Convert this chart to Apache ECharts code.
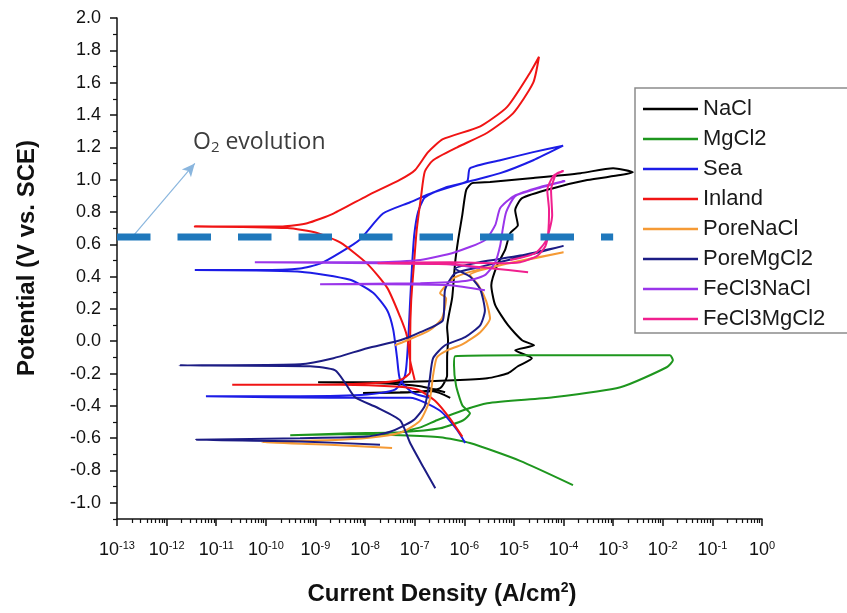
<!DOCTYPE html>
<html><head><meta charset="utf-8">
<script src="https://cdn.jsdelivr.net/npm/echarts@6/dist/echarts.min.js"></script>
<style>html,body{margin:0;padding:0;background:#fff}#c{width:847px;height:613px}</style>
</head><body><div id="c"></div>
<script>
// ---------- DATA (current density A/cm2, potential V vs SCE) ----------
const seriesNames = ['NaCl','MgCl2','Sea','Inland','PoreNaCl','PoreMgCl2','FeCl3NaCl','FeCl3MgCl2'];

const naclI = [5.2e-7,2.35e-7,5.1e-8,9.1e-9,8.1e-8,3.25e-7,4.5e-7,4.5e-7,4.7e-7,4.5e-7,5.7e-7,6.5e-7,7.5e-7,9.1e-7,1.09e-6,1.44e-6,3.3e-6,2.45e-5,2.2e-4,1.0e-3,2.5e-3,1.4e-3,3.0e-4,6.2e-5,1.46e-5,1.06e-5,1.2e-5,8.4e-6,6.6e-6,4.6e-6,3.5e-6,4.2e-6,7.6e-6,1.46e-5,2.55e-5,1.06e-5,2.3e-5,1.2e-5,7.6e-6,2.9e-6,6.1e-7,2.3e-8,1.13e-9,2.0e-8,1.3e-7,4.1e-7];
const naclV = [-0.35,-0.31,-0.316,-0.32,-0.316,-0.29,-0.21,-0.10,0.006,0.087,0.27,0.48,0.625,0.78,0.935,0.978,0.985,1.01,1.04,1.07,1.046,1.028,0.997,0.947,0.885,0.811,0.718,0.669,0.563,0.471,0.347,0.223,0.099,0.006,-0.025,-0.056,-0.105,-0.155,-0.198,-0.229,-0.241,-0.254,-0.254,-0.26,-0.279,-0.316];

const mgI = [1.55e-4,1.33e-5,1.3e-6,3.25e-7,5.1e-8,3.2e-9,3.1e-10,5.0e-9,5.1e-8,3.25e-7,9.5e-7,1.3e-6,9.1e-7,6.8e-7,6.2e-7,6.5e-7,1.33e-5,5.5e-4,1.4e-2,1.6e-2,1.2e-2,1.4e-3,6.2e-5,2.9e-6,9.5e-7,2.8e-7,1.3e-7,5.1e-8];
const mgV = [-0.89,-0.74,-0.63,-0.594,-0.582,-0.576,-0.582,-0.57,-0.563,-0.539,-0.489,-0.446,-0.396,-0.272,-0.149,-0.093,-0.087,-0.087,-0.087,-0.118,-0.161,-0.285,-0.347,-0.384,-0.427,-0.489,-0.533,-0.563];

const seaI = [1.04e-6,7.2e-7,3.25e-7,8.1e-8,1.97e-9,6.2e-12,4.9e-10,1.1e-8,4.0e-8,6.4e-8,7.4e-8,8.1e-8,8.9e-8,9.8e-8,1.17e-7,1.6e-7,4.1e-7,1.14e-6,1.3e-6,5.3e-6,2.45e-5,9.8e-5,2.45e-5,5.3e-6,1.14e-6,2.35e-7,8.1e-8,2.3e-8,7.9e-9,3.2e-9,1.24e-9,4.9e-10,7.6e-11,3.7e-12,4.9e-10,5.0e-9,1.45e-8,2.8e-8,3.7e-8,4.4e-8,5.1e-8,9.3e-8,2.0e-7];
const seaV = [-0.63,-0.55,-0.43,-0.35,-0.35,-0.34,-0.34,-0.33,-0.30,-0.21,0.01,0.25,0.48,0.66,0.80,0.89,0.95,0.99,1.07,1.12,1.17,1.21,1.12,1.04,0.985,0.92,0.86,0.79,0.63,0.55,0.48,0.45,0.44,0.44,0.43,0.38,0.30,0.19,0.07,-0.10,-0.24,-0.32,-0.35];

const inlandI = [9.1e-7,5.2e-7,2.6e-7,1.17e-7,4.0e-8,3.2e-9,2.1e-11,4.9e-10,1.26e-8,5.1e-8,8.1e-8,8.1e-8,8.5e-8,9.8e-8,1.1e-7,1.35e-7,1.6e-7,2.35e-7,7.2e-7,2.9e-6,9.6e-6,2.45e-5,3.2e-5,2.1e-5,7.3e-6,2.1e-6,3.7e-7,1.86e-7,1.02e-7,5.1e-8,1.1e-8,2.3e-9,6.8e-10,2.2e-10,3.7e-12,2.7e-10,1.08e-9,3.2e-9,1.1e-8,2.8e-8,5.1e-8,7.0e-8,8.1e-8,1.0e-7];
const inlandV = [-0.59,-0.48,-0.37,-0.30,-0.28,-0.27,-0.27,-0.27,-0.26,-0.24,-0.19,0.01,0.25,0.50,0.69,0.90,1.05,1.12,1.20,1.29,1.41,1.60,1.76,1.66,1.45,1.33,1.25,1.17,1.06,1.00,0.90,0.79,0.73,0.71,0.71,0.70,0.67,0.61,0.48,0.33,0.15,0.03,-0.12,-0.24];

const poreNaclI = [3.5e-8,1.95e-9,8.4e-11,3.2e-9,2.0e-8,5.8e-8,1.3e-7,2.0e-7,2.35e-7,2.8e-7,4.5e-7,9.1e-7,2.1e-6,3.3e-6,2.75e-6,1.9e-6,1.3e-6,5.3e-6,2.1e-5,1.0e-4,1.33e-5,2.1e-6,6.5e-7,4.5e-7,3.25e-7,4.3e-7,3.55e-7,2.0e-7,6.4e-8,4.0e-8];
const poreNaclV = [-0.66,-0.64,-0.625,-0.61,-0.59,-0.56,-0.49,-0.365,-0.21,-0.10,-0.056,-0.019,0.056,0.14,0.25,0.35,0.41,0.47,0.51,0.55,0.495,0.446,0.396,0.353,0.297,0.266,0.142,0.068,0.0,-0.025];

const poreMgI = [2.0e-8,4.9e-10,3.9e-12,4.9e-10,1.1e-8,3.2e-8,9.3e-8,1.6e-7,2.0e-7,2.35e-7,4.1e-7,1.04e-6,2.1e-6,2.6e-6,2.1e-6,1.3e-6,6.5e-7,2.1e-6,1.33e-5,1.0e-4,1.33e-5,2.1e-6,6.5e-7,4.1e-7,3.7e-7,1.3e-7,5.1e-8,1.1e-8,2.3e-9,4.9e-10,1.8e-12,7.8e-10,2.5e-9,4.0e-9,6.3e-9,1.75e-8,5.1e-8,8.1e-8,1.5e-7,2.6e-7];
const poreMgV = [-0.64,-0.62,-0.61,-0.60,-0.59,-0.56,-0.49,-0.40,-0.24,-0.105,-0.025,0.025,0.10,0.19,0.32,0.40,0.45,0.49,0.53,0.59,0.52,0.46,0.42,0.32,0.13,0.056,0.006,-0.043,-0.105,-0.142,-0.149,-0.155,-0.18,-0.26,-0.347,-0.41,-0.49,-0.63,-0.78,-0.91];

const fe3NaclI = [2.6e-6,5.2e-7,2.0e-8,1.24e-9,1.3e-7,1.04e-6,2.6e-6,4.2e-6,5.3e-6,6.0e-6,7.0e-6,1.06e-5,2.7e-5,1.08e-4,3.4e-5,1.0e-5,5.3e-6,4.2e-6,2.6e-6,6.5e-7,1.3e-7,2.0e-8,6.0e-11,2.0e-8,5.2e-7,2.1e-6];
const fe3NaclV = [0.316,0.347,0.353,0.353,0.359,0.372,0.409,0.489,0.594,0.70,0.80,0.898,0.941,0.991,0.954,0.898,0.824,0.718,0.625,0.551,0.502,0.489,0.489,0.483,0.477,0.452];

const fe3MgI = [1.93e-5,3.3e-6,5.2e-7,1.8e-8,5.2e-7,4.6e-6,1.33e-5,2.9e-5,4.3e-5,4.9e-5,5.1e-5,4.7e-5,6.2e-5,1.0e-4,7.1e-5,5.6e-5,5.9e-5,4.5e-5,2.7e-5,8.4e-6];
const fe3MgV = [0.427,0.452,0.477,0.483,0.489,0.483,0.489,0.526,0.588,0.669,0.811,0.935,1.022,1.053,1.034,0.935,0.78,0.625,0.545,0.502];

// O2 evolution threshold line and annotation arrow
const o2LineI = [1e-13, 1e-3];
const o2LineV = [0.645, 0.645];
const o2ArrowI = [2.1e-13, 3.7e-12];
const o2ArrowV = [0.65, 1.10];

// axis ticks
const xTickValues = [1e-13,1e-12,1e-11,1e-10,1e-9,1e-8,1e-7,1e-6,1e-5,1e-4,1e-3,1e-2,1e-1,1];
const yTickValues = [-1.0,-0.8,-0.6,-0.4,-0.2,0.0,0.2,0.4,0.6,0.8,1.0,1.2,1.4,1.6,1.8,2.0];
const yMinorValues = [-1.1,-0.9,-0.7,-0.5,-0.3,-0.1,0.1,0.3,0.5,0.7,0.9,1.1,1.3,1.5,1.7,1.9];
const xMinorValues = [];
for (let e = -13; e < 0; e++) for (let m = 2; m <= 9; m++) xMinorValues.push(m * Math.pow(10, e));

// ---------- CHART ----------
const colors = ['#000000','#1e961e','#1c1ce6','#f01414','#f59a35','#1c1c84','#9a35ea','#f0208e'];
const allI = [naclI, mgI, seaI, inlandI, poreNaclI, poreMgI, fe3NaclI, fe3MgI];
const allV = [naclV, mgV, seaV, inlandV, poreNaclV, poreMgV, fe3NaclV, fe3MgV];
const pairs = (I, V) => I.map((x, i) => [x, V[i]]);
const FONT = '"Liberation Sans", Arial, sans-serif';
const axisCol = '#111';

const chart = echarts.init(document.getElementById('c'), null, {renderer: 'canvas'});
const series = seriesNames.map((n, k) => ({
  name: n, type: 'line', data: pairs(allI[k], allV[k]),
  symbol: 'none', smooth: 0.2, animation: false, z: 2 + k,
  lineStyle: {width: 2, color: colors[k]}, itemStyle: {color: colors[k]}
}));
series.push({
  name: 'O2line', type: 'line', data: pairs(o2LineI, o2LineV), symbol: 'none', z: 20, animation: false, silent: true,
  lineStyle: {color: '#1f78bc', width: 7, type: [33.5, 27], cap: 'butt'},
  markLine: {
    symbol: ['none', 'arrow'], symbolSize: [9, 13], silent: true, animation: false,
    label: {show: false}, lineStyle: {color: '#8ab6de', width: 1.2, type: 'solid'},
    data: [[{coord: [o2ArrowI[0], o2ArrowV[0]]}, {coord: [o2ArrowI[1], o2ArrowV[1]]}]]
  }
});

chart.setOption({
  animation: false,
  grid: {left: 117, right: 85, top: 18, bottom: 94},
  xAxis: [{
    type: 'log', logBase: 10, min: 1e-13, max: 1, position: 'bottom',
    axisLine: {onZero: false, lineStyle: {color: axisCol, width: 1.5}},
    axisTick: {customValues: xTickValues, length: 7, lineStyle: {color: axisCol, width: 1.5}},
    axisLabel: {
      customValues: xTickValues, margin: 21, color: axisCol, fontSize: 18, fontFamily: FONT,
      formatter: v => '10{sup|' + Math.round(Math.log10(v)) + '}',
      rich: {sup: {fontSize: 11, fontFamily: FONT, color: axisCol, padding: [0, 0, 10, 0]}}
    },
    splitLine: {show: false}
  }, {
    type: 'log', logBase: 10, min: 1e-13, max: 1, position: 'bottom',
    axisLine: {show: false, onZero: false},
    axisTick: {customValues: xMinorValues, length: 4, lineStyle: {color: axisCol, width: 1.2}},
    axisLabel: {show: false}, splitLine: {show: false}
  }],
  yAxis: [{
    type: 'value', min: -1.1, max: 2.0, position: 'left',
    axisLine: {show: true, onZero: false, lineStyle: {color: axisCol, width: 1.5}},
    axisTick: {customValues: yTickValues, length: 7, lineStyle: {color: axisCol, width: 1.5}},
    axisLabel: {customValues: yTickValues, margin: 16, color: axisCol, fontSize: 18, fontFamily: FONT,
      formatter: v => v.toFixed(1)},
    splitLine: {show: false}
  }, {
    type: 'value', min: -1.1, max: 2.0, position: 'left',
    axisLine: {show: false, onZero: false},
    axisTick: {customValues: yMinorValues, length: 4, lineStyle: {color: axisCol, width: 1.2}},
    axisLabel: {show: false}, splitLine: {show: false}
  }],
  legend: {
    data: seriesNames, orient: 'vertical', left: 638, top: 93, z: 10,
    icon: 'rect', itemWidth: 55, itemHeight: 2.5, itemGap: 8, selectedMode: false,
    textStyle: {fontFamily: FONT, fontSize: 22, lineHeight: 22, color: '#1a1a1a'}
  },
  graphic: [
    {type: 'rect', z: 5, silent: true, shape: {x: 635, y: 88, width: 240, height: 245},
     style: {fill: '#fff', stroke: '#8c8c8c', lineWidth: 1.5}},
    {type: 'text', x: 27, y: 258, rotation: Math.PI / 2, silent: true,
     style: {text: 'Potential (V vs. SCE)', fontSize: 24, fontWeight: 'bold', fontFamily: FONT, fill: '#111',
       align: 'center', verticalAlign: 'middle'}},
    {type: 'text', x: 442, y: 594, silent: true,
     style: {text: 'Current Density (A/cm{sup|2})', fontSize: 24, fontWeight: 'bold', fontFamily: FONT, fill: '#111',
       align: 'center', verticalAlign: 'middle',
       rich: {sup: {fontSize: 14, fontWeight: 'bold', fontFamily: FONT, fill: '#111', padding: [0, 0, 12, 0]}}}},
    {type: 'text', x: 193, y: 142, silent: true,
     style: {text: 'O{sub|2} evolution', fontSize: 23, fontFamily: '"Open Sans", sans-serif', fill: '#3c3c3c',
       align: 'left', verticalAlign: 'middle',
       rich: {sub: {fontSize: 15, fontFamily: '"Open Sans", sans-serif', fill: '#3c3c3c', padding: [12, 0, 0, 0]}}}}
  ],
  series: series
});
</script></body></html>
